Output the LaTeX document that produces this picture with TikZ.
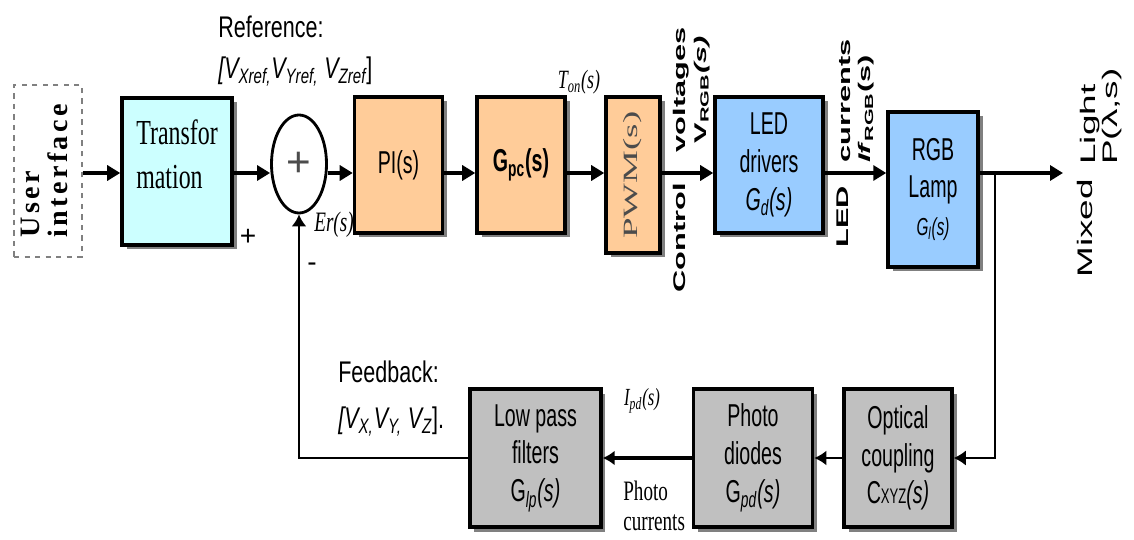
\documentclass[tikz,border=0pt]{standalone}
\usepackage{fontspec}
\setmainfont{Liberation Sans}
\newfontfamily\boxfont[FakeStretch=0.62]{Liberation Sans}
\newfontfamily\labfont[FakeStretch=0.72]{Liberation Sans}
\newfontfamily\serfont[FakeStretch=0.68]{Liberation Serif}
\newfontfamily\uifont[LetterSpace=12]{Liberation Serif}
\newfontfamily\vfont{Liberation Sans}
\newfontfamily\vserfont{Liberation Serif}
\usetikzlibrary{arrows.meta,positioning,shapes.geometric,shadows}

\definecolor{transcyan}{HTML}{CCFFFF}
\definecolor{ctrlorange}{HTML}{FFCC99}
\definecolor{ledblue}{HTML}{99CCFF}
\definecolor{fbgray}{HTML}{C0C0C0}

\newcommand{\boxtxt}{\boxfont\fontsize{18}{21.5}\selectfont}
\newcommand{\transtxt}{\serfont\fontsize{20}{25}\selectfont}
\newcommand{\labtxt}{\labfont\fontsize{17}{23}\selectfont}
\newcommand{\sertxt}{\serfont\fontsize{15}{17}\selectfont}
\newcommand{\uitxt}{\uifont\bfseries\fontsize{16}{14}\selectfont}
\newcommand{\pwmtxt}{\vserfont\fontsize{21}{23}\selectfont}
\newcommand{\vtxt}{\vfont\fontsize{21}{22}\selectfont}
\newcommand{\vtxtb}{\vfont\bfseries\fontsize{17.5}{21}\selectfont}
\newcommand{\uptext}[3]{\rotatebox{90}{\scalebox{1}[#1]{\begin{tabular}{@{}#2@{}}#3\end{tabular}}}}

\begin{document}
\begin{tikzpicture}[box/.style={draw, line width=2pt, inner sep=0pt, align=center, font=\boxtxt, drop shadow={shadow xshift=0.09cm, shadow yshift=-0.09cm, fill=black!50, opacity=1}}, arrow/.style={-{Triangle[length=0.26cm,width=0.3cm]}, line width=2.6pt}, fbarrow/.style={-{Latex[length=0.24cm,width=0.3cm]}, line width=1.7pt}, lab/.style={inner sep=0pt, font=\labtxt, align=left}, vlab/.style={inner sep=0pt, font=\vtxt}]
\path[use as bounding box, fill=white] (0,0) rectangle (22.68,-10.8);
\coordinate (lvl) at (0,-3.46);
\node[draw=gray, dashed, line width=0.8pt, minimum width=1.36cm, minimum height=3.44cm, inner sep=0pt, font=\uitxt] (ui) at (0.96,-3.42) {\uptext{1}{l}{User\\interface}};
\node[box, fill=transcyan, font=\transtxt, minimum width=2.2cm, minimum height=2.94cm] (trans) at (3.54,-3.43) {\raisebox{0.28cm}[\height][\depth]{\begin{tabular}{@{}l@{}}Transfor\\mation\end{tabular}}};
\node[ellipse, draw, line width=1.6pt, minimum width=1.1cm, minimum height=1.96cm, inner sep=0pt, text=black!70, font=\vfont\fontsize{24}{24}\selectfont] (sum) at (5.98,-3.28) {+};
\node[box, fill=ctrlorange, minimum width=1.76cm, minimum height=2.72cm] (pi) at (7.97,-3.30) {PI(s)};
\node[box, fill=ctrlorange, minimum width=1.76cm, minimum height=2.72cm] (gpc) at (10.42,-3.30) {\bfseries G\textsubscript{pc}(s)};
\node[box, fill=ctrlorange, minimum width=1.08cm, minimum height=3.12cm, font=\pwmtxt, text=black!70] (pwm) at (12.66,-3.50) {\uptext{0.55}{c}{PWM(s)}};
\node[box, fill=ledblue, minimum width=2.16cm, minimum height=2.72cm] (led) at (15.38,-3.30) {LED\\drivers\\\textit{G\textsubscript{d}(s)}};
\node[box, fill=ledblue, minimum width=1.8cm, minimum height=3.1cm] (lamp) at (18.66,-3.79) {RGB\\Lamp\\{\fontsize{14}{21}\selectfont\textit{G\textsubscript{l}(s)}}};
\node[box, fill=fbgray, minimum width=2.16cm, minimum height=2.76cm] (oc) at (17.96,-9.16) {Optical\\coupling\\C{\fontsize{12}{12}\selectfont XYZ}\textit{(s)}};
\node[box, fill=fbgray, minimum width=2.38cm, minimum height=2.76cm, left=0.56cm of oc] (pd) {Photo\\diodes\\G\textsubscript{\textit{pd}}\textit{(s)}};
\node[box, fill=fbgray, minimum width=2.62cm, minimum height=2.76cm, left=1.78cm of pd] (lpf) {Low pass\\filters\\G\textsubscript{\textit{lp}}\textit{(s)}};
\coordinate (br) at (19.9,-3.46);
\coordinate (out) at (21.26,-3.46);
\foreach \a/\b in {ui/trans,trans/sum,sum/pi,pi/gpc,gpc/pwm,pwm/led,led/lamp}
  \draw[arrow] (\a.east |- lvl) -- (\b.west |- lvl);
\draw[arrow] (lamp.east |- lvl) -- (out);
\draw[fbarrow, line width=0.9pt] (br) |- (oc.east);
\draw[fbarrow, line width=1.4pt] (oc) -- (pd);
\draw[fbarrow, line width=2.2pt] (pd) -- (lpf);
\draw[fbarrow] (lpf.west) -| (sum.south);
\node[lab, anchor=north west] (reflab) at (4.36,-0.32) {Reference:\\\textit{[V\textsubscript{Xref,}V\textsubscript{Yref,} V\textsubscript{Zref}}]};
\node[lab, anchor=north west, font=\labfont\fontsize{17}{26}\selectfont] (fblab) at (6.76,-7.22) {Feedback:\\\textit{[V\textsubscript{X,}V\textsubscript{Y,} V\textsubscript{Z}}].};
\node[inner sep=0pt, font=\sertxt] (ton) at (11.58,-1.64) {\textit{T\textsubscript{on}(s)}};
\node[inner sep=0pt, font=\serfont\fontsize{16}{18}\selectfont] (erlab) at (6.68,-4.5) {\textit{Er(s)}};
\node[inner sep=0pt, font=\vfont\fontsize{16}{18}\selectfont] (plus) at (4.96,-4.74) {+};
\node[inner sep=0pt, font=\vfont\fontsize{16}{18}\selectfont] (minus) at (6.24,-5.34) {-};
\node[inner sep=0pt, font=\serfont\fontsize{14}{16}\selectfont] (ipd) at (12.84,-8.02) {\textit{I\textsubscript{pd}(s)}};
\node[inner sep=0pt, anchor=north west, align=left, font=\serfont\fontsize{16}{17}\selectfont] (phcur) at (12.46,-9.62) {Photo\\currents};
\node[vlab, anchor=south, font=\vtxtb] (ctrl) at (13.62,-5.86) {\uptext{0.55}{c}{Control}};
\node[vlab, anchor=north, font=\vtxtb] (volt) at (13.84,-0.54) {\uptext{0.55}{c}{voltages\\V\textsubscript{RGB}\textit{(s)}}};
\node[vlab, anchor=south, font=\vtxtb] (ledlab) at (16.88,-4.96) {\uptext{0.55}{c}{LED}};
\node[vlab, anchor=south, font=\vtxtb] (curr) at (17.13,-3.26) {\uptext{0.55}{l}{currents\\\textit{If}\textsubscript{RGB}(s)}};
\node[vlab, anchor=south] (mixed) at (21.76,-5.56) {\uptext{0.57}{c}{Mixed}};
\node[vlab, anchor=south] (light) at (22.04,-3.3) {\uptext{0.57}{l}{Light\\P(λ,s)}};
\end{tikzpicture}
\end{document}
